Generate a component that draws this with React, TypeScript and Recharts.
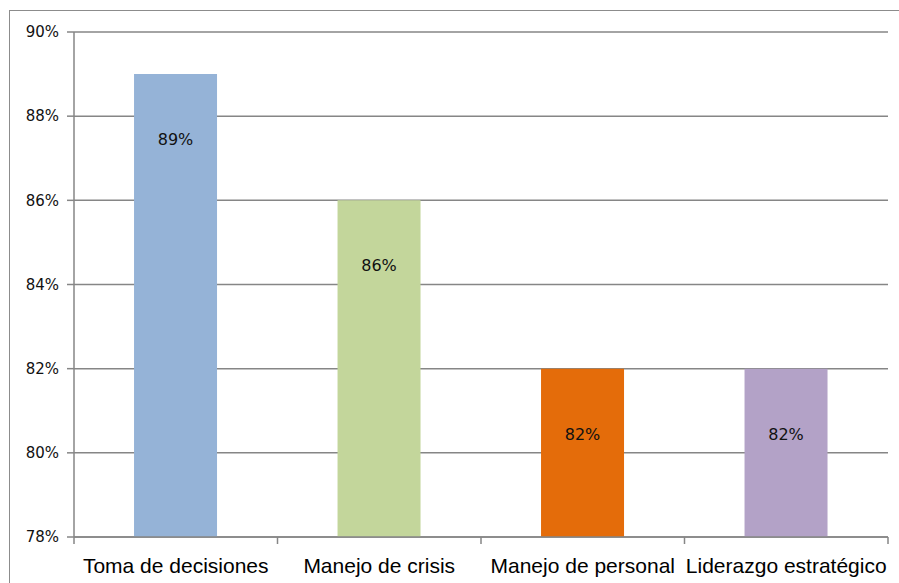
import React from "react";
import { BarChart, Bar, XAxis, YAxis, CartesianGrid, Cell, LabelList } from "recharts";

const categories = ["Toma de decisiones", "Manejo de crisis", "Manejo de personal", "Liderazgo estratégico"];
const values = [89, 86, 82, 82];
const colors = ["#95B3D7", "#C3D69B", "#E46C0A", "#B3A2C7"];
const yTicks = [78, 80, 82, 84, 86, 88, 90];

const data = categories.map((name, i) => ({ name, value: values[i] }));

const W = 899;
const H = 583;
const MARGIN = { top: 32, right: 11, bottom: 0, left: 0 };
const Y_W = 74;
const X_H = 46;
const plotW = W - MARGIN.left - MARGIN.right - Y_W;
const band = plotW / categories.length;

const XTick = (props: any) => {
  const { x, y, payload, index } = props;
  const half = band / 2;
  return (
    <g>
      <line x1={x - half} y1={y - 8} x2={x - half} y2={y - 1} stroke="#868686" strokeWidth={1.5} />
      {index === categories.length - 1 && (
        <line x1={x + half} y1={y - 8} x2={x + half} y2={y - 1} stroke="#868686" strokeWidth={1.5} />
      )}
      <text x={x} y={y + 28} textAnchor="middle" fontFamily="'Liberation Sans', Arial, sans-serif" fontSize={21} fill="#000">
        {payload.value}
      </text>
    </g>
  );
};

const BarLabel = (props: any) => {
  const { x, y, width, value } = props;
  return (
    <text x={x + width / 2} y={y + 71} textAnchor="middle" fontFamily="'DejaVu Sans', Tahoma, sans-serif" fontSize={16} fill="#111">
      {value}%
    </text>
  );
};

export default function App() {
  return (
    <div style={{ position: "absolute", left: 0, top: 0, width: W, height: H, background: "#fff", overflow: "hidden" }}>
      <div style={{ position: "absolute", left: 9, top: 10, width: 900, height: 600, border: "1px solid #8c8c8c", boxSizing: "border-box" }} />
      <div style={{ position: "absolute", left: 0, top: 0 }}>
        <BarChart width={W} height={H} data={data} margin={MARGIN} barCategoryGap="29.5%">
          <CartesianGrid vertical={false} stroke="#868686" strokeWidth={1.5} />
          <XAxis
            dataKey="name"
            height={X_H}
            tickLine={false}
            axisLine={{ stroke: "#868686", strokeWidth: 1.5 }}
            tick={<XTick />}
            interval={0}
          />
          <YAxis
            width={Y_W}
            domain={[78, 90]}
            ticks={yTicks}
            allowDataOverflow
            tickFormatter={(v: number) => `${v}%`}
            tickSize={7}
            tickMargin={8}
            tickLine={{ stroke: "#868686", strokeWidth: 1.5 }}
            axisLine={{ stroke: "#868686", strokeWidth: 1.5 }}
            tick={{ fontFamily: "'DejaVu Sans', Tahoma, sans-serif", fontSize: 15, fill: "#111" }}
          />
          <Bar dataKey="value" isAnimationActive={false}>
            {data.map((d, i) => (
              <Cell key={d.name} fill={colors[i]} />
            ))}
            <LabelList dataKey="value" content={<BarLabel />} />
          </Bar>
        </BarChart>
      </div>
    </div>
  );
}
